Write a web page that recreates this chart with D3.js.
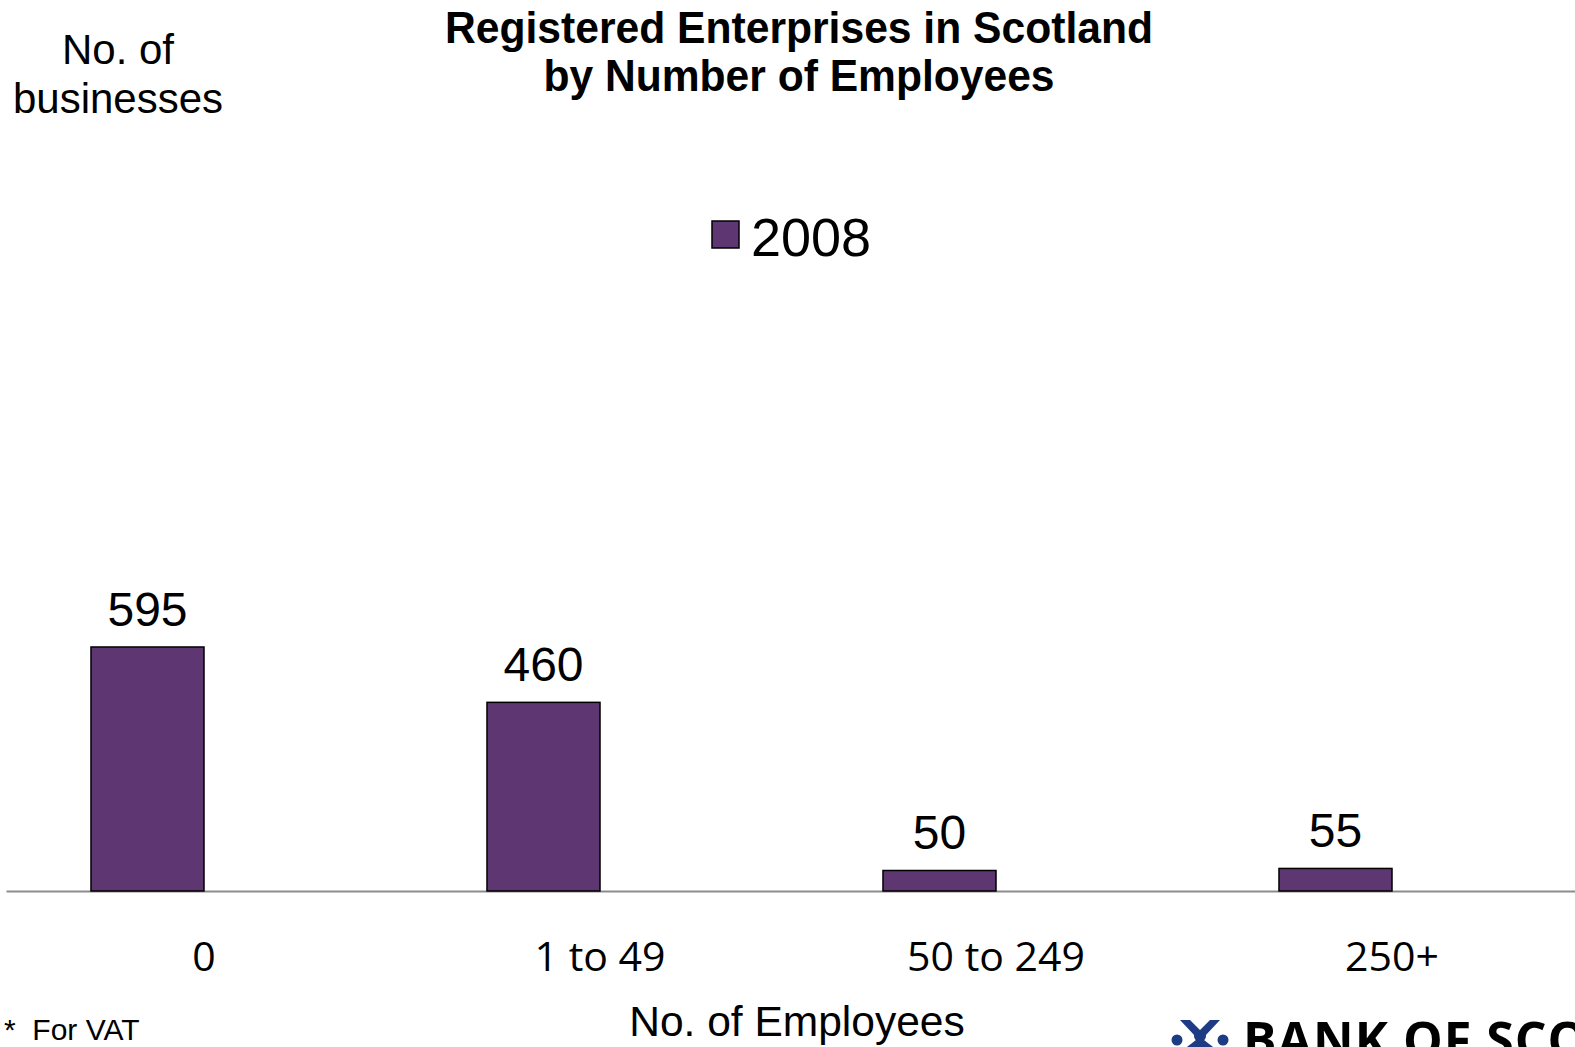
<!DOCTYPE html>
<html>
<head>
<meta charset="utf-8">
<script src="https://cdn.jsdelivr.net/npm/d3@7"></script>
<style>
  html, body { margin: 0; padding: 0; background: #fff; overflow: hidden; }
  svg { display: block; }
  text { font-family: "Liberation Sans", Arial, sans-serif; fill: #000; }
</style>
</head>
<body>
<svg id="chart" width="1575" height="1047"></svg>
<script>
// ---- data ----
const categories = ["0", "1 to 49", "50 to 249", "250+"];
const seriesNames = ["2008"];
const values2008 = [595, 460, 50, 55];
const titleLines = ["Registered Enterprises in Scotland", "by Number of Employees"];
const yLabelLines = ["No. of", "businesses"];
const xLabel = "No. of Employees";
const footnote = "*  For VAT";
const logoText = "BANK OF SCOTLAND";

const W = 1575, H = 1047;
const svg = d3.select("#chart");

const baseY = 891;
const x = d3.scaleBand().domain(categories).range([6, 1590]).paddingInner(0).paddingOuter(0);
// sub-band: first slot holds the 2008 bar, second slot is empty
const xs = d3.scaleBand().domain(["2008", "_"]).range([0, x.bandwidth()]).paddingInner(0).paddingOuter(0.752);
const y = d3.scaleLinear().domain([0, 1500]).range([baseY, baseY - 1500 * 0.4101]);

// title
const title = svg.append("g");
title.append("text").attr("x", 799).attr("y", 43).attr("text-anchor", "middle")
  .attr("font-size", 44).attr("font-weight", "bold")
  .attr("textLength", 708).attr("lengthAdjust", "spacingAndGlyphs").text(titleLines[0]);
title.append("text").attr("x", 799).attr("y", 91).attr("text-anchor", "middle")
  .attr("font-size", 44).attr("font-weight", "bold")
  .attr("textLength", 511).attr("lengthAdjust", "spacingAndGlyphs").text(titleLines[1]);

// y label
yLabelLines.forEach((t, i) => {
  svg.append("text").attr("x", 118).attr("y", 64 + i * 48.5).attr("text-anchor", "middle")
    .attr("font-size", 42).text(t);
});

// legend
const color = d3.scaleOrdinal().domain(seriesNames).range(["#5e3772"]);
const leg = svg.append("g");
leg.append("rect").attr("x", 712).attr("y", 221).attr("width", 27).attr("height", 27)
  .attr("fill", color("2008")).attr("stroke", "#000").attr("stroke-width", 1.5);
leg.append("text").attr("x", 751).attr("y", 256).attr("font-size", 54).text(seriesNames[0]);

// axis
const axis = svg.append("g").attr("transform", `translate(0,${baseY})`)
  .call(d3.axisBottom(x).tickSize(0).tickPadding(0));
axis.select(".domain").attr("stroke", "#8c8c8c").attr("stroke-width", 2);
axis.selectAll(".tick text")
  .attr("y", 80).attr("dy", 0)
  .attr("font-size", 41)
  .style("font-family", "'Open Sans', 'Liberation Sans', sans-serif")
  .attr("fill", "#000");

// bars
const data = categories.map((c, i) => ({ c, v: values2008[i] }));
svg.append("g").selectAll("rect").data(data).join("rect")
  .attr("x", d => x(d.c) + xs("2008"))
  .attr("width", xs.bandwidth())
  .attr("y", d => y(d.v))
  .attr("height", d => y(0) - y(d.v))
  .attr("fill", color("2008"))
  .attr("stroke", "#000").attr("stroke-width", 1.5);

// value labels
svg.append("g").selectAll("text").data(data).join("text")
  .attr("x", d => x(d.c) + xs("2008") + xs.bandwidth() / 2)
  .attr("y", d => y(d.v) - 21)
  .attr("text-anchor", "middle")
  .attr("font-size", 48)
  .text(d => d.v);

// x label
svg.append("text").attr("x", 797).attr("y", 1036).attr("text-anchor", "middle")
  .attr("font-size", 42.5).text(xLabel);

// footnote
svg.append("text").attr("x", 4).attr("y", 1040).attr("font-size", 30)
  .attr("xml:space", "preserve").style("white-space", "pre").text(footnote);

// logo (cropped at the bottom and right edges, as in the reference)
const logo = svg.append("g").attr("fill", "#1d3c84");
logo.append("circle").attr("cx", 1177).attr("cy", 1040).attr("r", 5.5);
logo.append("circle").attr("cx", 1223).attr("cy", 1040).attr("r", 5.5);
logo.append("circle").attr("cx", 1200).attr("cy", 1036).attr("r", 6);
logo.append("path").attr("d", "M1180,1020 L1190,1020 L1200,1030 L1210,1020 L1220,1020 L1205,1036 L1195,1036 Z");
logo.append("path").attr("d", "M1183,1050 L1196,1040 L1204,1040 L1217,1050 Z");
logo.append("text").attr("x", 1243).attr("y", 1058).attr("font-size", 50)
  .attr("font-weight", "bold").attr("fill", "#1d3c84")
  .attr("letter-spacing", 1)
  .style("font-family", "'Open Sans', 'Liberation Sans', sans-serif")
  .text(logoText);
</script>
</body>
</html>
